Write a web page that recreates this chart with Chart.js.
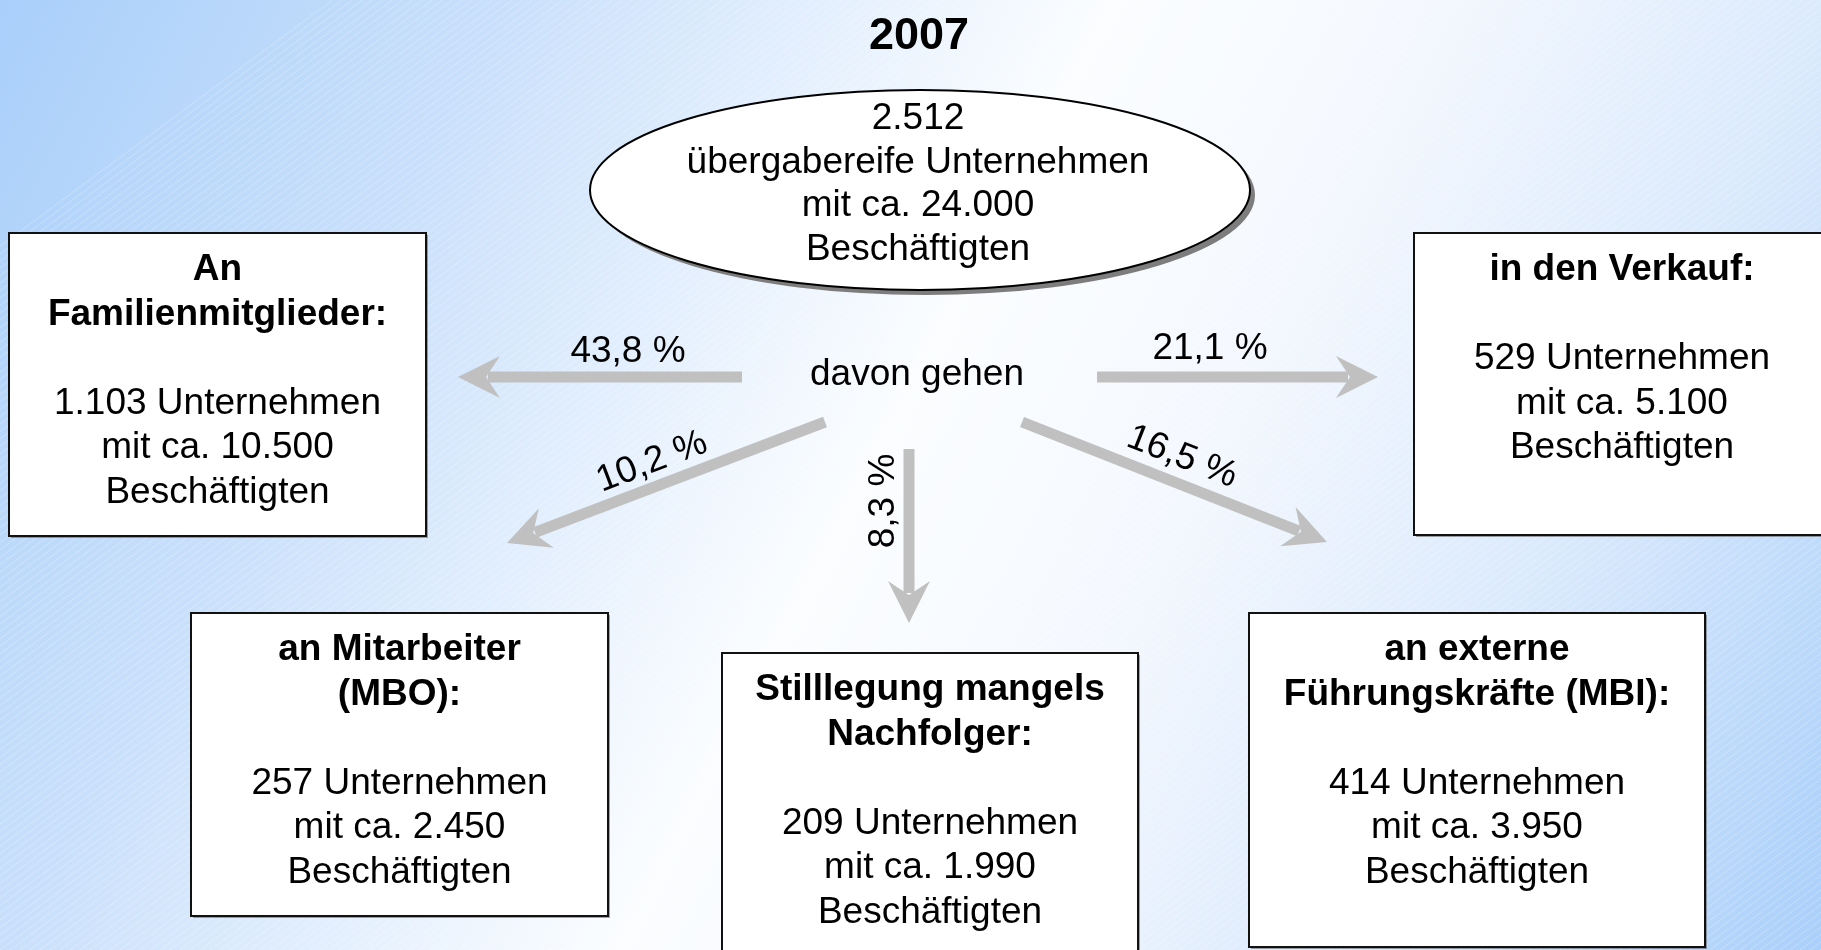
<!DOCTYPE html>
<html lang="de">
<head>
<meta charset="utf-8">
<title>Unternehmensübergaben 2007</title>
<script src="https://cdn.jsdelivr.net/npm/chart.js@4.4.1/dist/chart.umd.min.js"></script>
<style>
  html, body { margin: 0; padding: 0; overflow: hidden; background: #ffffff; }
  #wrap { width: 1821px; height: 950px; position: relative; }
</style>
</head>
<body>
<div id="wrap"><canvas id="chart"></canvas></div>
<script>
  // --- data ---
  const year = '2007';
  const totalCompanies = 2512;
  const totalEmployees = 24000;
  const channels = [
    ['An', 'Familienmitglieder:'],
    ['in den Verkauf:'],
    ['an Mitarbeiter', '(MBO):'],
    ['Stilllegung mangels', 'Nachfolger:'],
    ['an externe', 'Führungskräfte (MBI):']
  ];
  const shares = [43.8, 21.1, 10.2, 8.3, 16.5];
  const companies = [1103, 529, 257, 209, 414];
  const employees = [10500, 5100, 2450, 1990, 3950];

  // --- layout (diagram units = pixels of the 1821x950 page) ---
  const boxes = [
    { x0: 9, y0: 233, x1: 426, y1: 536 },
    { x0: 1414, y0: 233, x1: 1830, y1: 535 },
    { x0: 191, y0: 613, x1: 608, y1: 916 },
    { x0: 722, y0: 653, x1: 1138, y1: 958 },
    { x0: 1249, y0: 613, x1: 1705, y1: 947 }
  ];
  const arrows = [
    { from: [742, 377], to: [458, 377], label: [628, 352], rot: 0 },
    { from: [1097, 377], to: [1378, 377], label: [1210, 349], rot: 0 },
    { from: [825, 422], to: [507, 543], label: [652, 462], rot: -20.8 },
    { from: [909, 449], to: [909, 623], label: [884, 501], rot: -90 },
    { from: [1022, 422], to: [1327, 542], label: [1182, 457], rot: 21.5 }
  ];
  const ellipse = { cx: 920, cy: 190, rx: 330, ry: 100 };

  const FONT = "'Liberation Sans', Arial, Helvetica, sans-serif";
  const BODY = 37;
  const LINE = 44.5;
  const ARROW_GREY = '#c0c0c0';

  const num = new Intl.NumberFormat('de-DE');
  const pct = new Intl.NumberFormat('de-DE', { minimumFractionDigits: 1, maximumFractionDigits: 1 });

  function px(chart, x, y) {
    return [chart.scales.x.getPixelForValue(x), chart.scales.y.getPixelForValue(y)];
  }

  function drawArrow(ctx, chart, a) {
    const [x0, y0] = px(chart, a.from[0], a.from[1]);
    const [x1, y1] = px(chart, a.to[0], a.to[1]);
    const ang = Math.atan2(y1 - y0, x1 - x0);
    const headLen = 42;
    const notch = 28;
    const halfW = 21;
    const cos = Math.cos(ang);
    const sin = Math.sin(ang);
    // shaft
    ctx.save();
    ctx.strokeStyle = ARROW_GREY;
    ctx.lineWidth = 11;
    ctx.lineCap = 'butt';
    ctx.beginPath();
    ctx.moveTo(x0, y0);
    ctx.lineTo(x1 - cos * (notch + 2), y1 - sin * (notch + 2));
    ctx.stroke();
    // head
    const bx = x1 - cos * headLen;
    const by = y1 - sin * headLen;
    ctx.fillStyle = ARROW_GREY;
    ctx.beginPath();
    ctx.moveTo(x1, y1);
    ctx.lineTo(bx - sin * halfW, by + cos * halfW);
    ctx.lineTo(x1 - cos * notch, y1 - sin * notch);
    ctx.lineTo(bx + sin * halfW, by - cos * halfW);
    ctx.closePath();
    ctx.fill();
    ctx.restore();
  }

  const diagramPlugin = {
    id: 'diagram',
    beforeDraw(chart) {
      const { ctx, width, height } = chart;
      ctx.save();
      const g = ctx.createLinearGradient(0, 0, width, height);
      g.addColorStop(0, '#a9cffa');
      g.addColorStop(0.22, '#c9e0fb');
      g.addColorStop(0.48, '#fbfdff');
      g.addColorStop(0.62, '#f4f8fe');
      g.addColorStop(0.8, '#d9e9fc');
      g.addColorStop(1, '#a9cffa');
      ctx.fillStyle = g;
      ctx.fillRect(0, 0, width, height);
      // faint diagonal hatching
      ctx.strokeStyle = 'rgba(255,255,255,0.28)';
      ctx.lineWidth = 1;
      ctx.beginPath();
      for (let k = -height; k < width + height; k += 10) {
        ctx.moveTo(k, height);
        ctx.lineTo(k + height * 1.35, 0);
      }
      ctx.stroke();
      ctx.restore();
    },
    afterDatasetsDraw(chart) {
      const ctx = chart.ctx;
      ctx.save();
      ctx.textAlign = 'center';
      ctx.fillStyle = '#000000';

      // title
      const [tx, ty] = px(chart, 919, 37);
      ctx.font = `bold 45px ${FONT}`;
      ctx.textBaseline = 'middle';
      ctx.fillText(year, tx, ty);

      // ellipse with shadow
      const [ecx, ecy] = px(chart, ellipse.cx, ellipse.cy);
      ctx.fillStyle = '#7d7d7d';
      ctx.beginPath();
      ctx.ellipse(ecx + 5, ecy + 5, ellipse.rx, ellipse.ry, 0, 0, Math.PI * 2);
      ctx.fill();
      ctx.fillStyle = '#ffffff';
      ctx.strokeStyle = '#000000';
      ctx.lineWidth = 2;
      ctx.beginPath();
      ctx.ellipse(ecx, ecy, ellipse.rx, ellipse.ry, 0, 0, Math.PI * 2);
      ctx.fill();
      ctx.stroke();
      ctx.fillStyle = '#000000';
      ctx.font = `${BODY}px ${FONT}`;
      ctx.textBaseline = 'alphabetic';
      const eLines = [num.format(totalCompanies), 'übergabereife Unternehmen', `mit ca. ${num.format(totalEmployees)}`, 'Beschäftigten'];
      eLines.forEach((t, i) => ctx.fillText(t, ecx - 2, ecy - 61 + i * 43.5));

      // centre label
      const [dx, dy] = px(chart, 917, 375);
      ctx.textBaseline = 'middle';
      ctx.fillText('davon gehen', dx, dy);

      // arrows + percentages
      arrows.forEach((a, i) => {
        drawArrow(ctx, chart, a);
        const [lx, ly] = px(chart, a.label[0], a.label[1]);
        ctx.save();
        ctx.translate(lx, ly);
        ctx.rotate(a.rot * Math.PI / 180);
        ctx.fillStyle = '#000000';
        ctx.font = `${BODY}px ${FONT}`;
        ctx.textBaseline = 'middle';
        ctx.fillText(`${pct.format(shares[i])} %`, 0, 0);
        ctx.restore();
      });

      // destination boxes
      boxes.forEach((b, i) => {
        const [x0, y0] = px(chart, b.x0, b.y0);
        const [x1, y1] = px(chart, b.x1, b.y1);
        ctx.fillStyle = 'rgba(90,90,90,0.55)';
        ctx.fillRect(x0 + 2, y0 + 2, x1 - x0, y1 - y0);
        ctx.fillStyle = '#ffffff';
        ctx.fillRect(x0, y0, x1 - x0, y1 - y0);
        ctx.strokeStyle = '#111111';
        ctx.lineWidth = 2;
        ctx.strokeRect(x0, y0, x1 - x0, y1 - y0);

        const cx = (x0 + x1) / 2;
        const lines = channels[i].map((t) => ({ t, bold: true }));
        lines.push({ t: '', bold: false });
        lines.push({ t: `${num.format(companies[i])} Unternehmen`, bold: false });
        lines.push({ t: `mit ca. ${num.format(employees[i])}`, bold: false });
        lines.push({ t: 'Beschäftigten', bold: false });
        ctx.fillStyle = '#000000';
        ctx.textBaseline = 'alphabetic';
        lines.forEach((l, k) => {
          if (!l.t) return;
          ctx.font = `${l.bold ? 'bold ' : ''}${BODY}px ${FONT}`;
          ctx.fillText(l.t, cx, y0 + 47 + k * LINE);
        });
      });
      ctx.restore();
    }
  };

  new Chart(document.getElementById('chart'), {
    type: 'scatter',
    data: {
      datasets: [{
        label: 'Knoten',
        data: boxes.map((b) => ({ x: (b.x0 + b.x1) / 2, y: (b.y0 + b.y1) / 2 })),
        pointRadius: 0,
        pointHoverRadius: 0
      }]
    },
    options: {
      responsive: true,
      maintainAspectRatio: false,
      animation: false,
      events: [],
      layout: { padding: 0 },
      scales: {
        x: { type: 'linear', min: 0, max: 1821, display: false },
        y: { type: 'linear', min: 0, max: 950, reverse: true, display: false }
      },
      plugins: {
        legend: { display: false },
        tooltip: { enabled: false },
        title: { display: false }
      }
    },
    plugins: [diagramPlugin]
  });
</script>
</body>
</html>
